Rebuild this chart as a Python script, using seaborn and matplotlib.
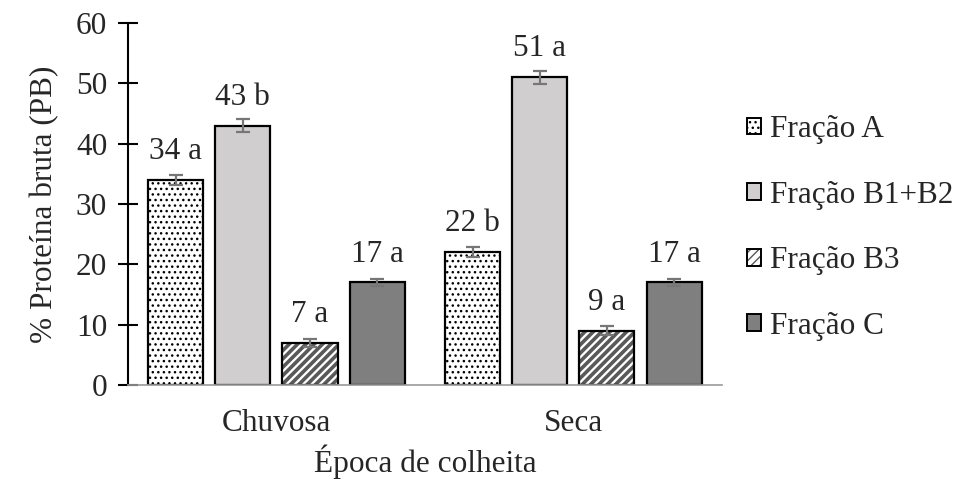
import matplotlib
matplotlib.use("Agg")
import matplotlib.pyplot as plt
import matplotlib.colors as mcolors
from matplotlib.patches import Patch
import seaborn as sns
import pandas as pd

epocas = ["Chuvosa", "Seca"]
fracoes = ["Fração A", "Fração B1+B2", "Fração B3", "Fração C"]
valores = {
    "Fração A": [34, 22],
    "Fração B1+B2": [43, 51],
    "Fração B3": [7, 9],
    "Fração C": [17, 17],
}
erros = {
    "Fração A": [0.8, 0.8],
    "Fração B1+B2": [1.1, 1.1],
    "Fração B3": [0.7, 0.7],
    "Fração C": [0.6, 0.6],
}
letras = {
    "Fração A": ["a", "b"],
    "Fração B1+B2": ["b", "a"],
    "Fração B3": ["a", "a"],
    "Fração C": ["a", "a"],
}

rows = []
for f in fracoes:
    for i, e in enumerate(epocas):
        rows.append({"Época": e, "Fração": f, "valor": valores[f][i]})
df = pd.DataFrame(rows)

sns.set_style("white")
plt.rcParams["font.family"] = ["Liberation Serif", "DejaVu Serif"]
plt.rcParams["hatch.linewidth"] = 1.0

FS = 22.5
fig = plt.figure(figsize=(9.65, 4.84), dpi=100)
ax = fig.add_axes([0.1326, 0.2045, 0.6154, 0.748])

facecolors = ["white", "#d0cece", "white", "#7f7f7f"]
hatches = ["...", None, "////", None]
hatchcols = ["black", None, "#595959", None]

sns.barplot(data=df, x="Época", y="valor", hue="Fração", order=epocas,
            hue_order=fracoes, errorbar=None, width=0.905, gap=0.18,
            palette=facecolors, saturation=1, ax=ax, legend=False)

bar_conts = list(ax.containers)
for k, cont in enumerate(bar_conts):
    f = fracoes[k]
    xs = []
    for p in cont.patches:
        p.set_facecolor(facecolors[k])
        p.set_edgecolor("black")
        p.set_linewidth(1.6)
        if hatches[k]:
            p.set_hatch(hatches[k])
            p._hatch_color = mcolors.to_rgba(hatchcols[k])
            if hasattr(p, "set_hatch_linewidth"):
                p.set_hatch_linewidth(1.0 if k == 0 else 2.6)
        xs.append(p.get_x() + p.get_width() / 2)
    ax.errorbar(xs, valores[f], yerr=erros[f], fmt="none", ecolor="#767676",
                elinewidth=1.6, capsize=5, capthick=1.6, zorder=5)
    for x, v, l in zip(xs, valores[f], letras[f]):
        ax.annotate(f"{v} {l}", (x, v), xytext=(0, 15), textcoords="offset points",
                    ha="center", va="baseline", fontsize=FS)

ax.set_xlim(-0.5, 1.5)
ax.set_ylim(0, 60)
ax.set_yticks(range(0, 61, 10))
ax.tick_params(axis="y", direction="inout", length=14, width=1.5, labelsize=FS,
               pad=8, left=True, color="black")
ax.tick_params(axis="x", length=0, labelsize=FS, pad=17)
for s in ["top", "right"]:
    ax.spines[s].set_visible(False)
ax.spines["left"].set_linewidth(1.5)
ax.spines["left"].set_color("black")
ax.spines["bottom"].set_linewidth(1.2)
ax.spines["bottom"].set_color("#9a9a9a")
ax.set_xlabel("Época de colheita", fontsize=FS, labelpad=5)
ax.set_ylabel("% Proteína bruta (PB)", fontsize=FS, labelpad=12)

handles = []
for k, f in enumerate(fracoes):
    h = Patch(facecolor=facecolors[k], edgecolor="black", linewidth=1.4,
              hatch=hatches[k], label=f)
    handles.append(h)
leg = fig.legend(handles=handles, loc="upper left", bbox_to_anchor=(0.774, 0.762),
                 frameon=False, fontsize=FS, handlelength=0.45, handleheight=0.45,
                 handletextpad=0.3, labelspacing=1.17, borderpad=0, borderaxespad=0)
for k, h in enumerate(leg.get_patches()):
    if hatchcols[k]:
        h._hatch_color = mcolors.to_rgba(hatchcols[k])

fig.savefig("out.png", dpi=100)
